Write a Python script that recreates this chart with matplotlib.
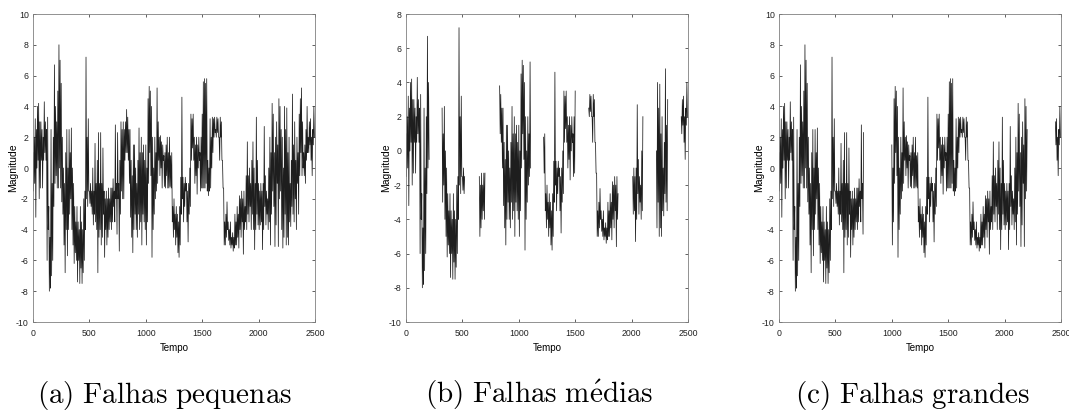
import numpy as np
import matplotlib.pyplot as plt

plt.rcParams['mathtext.fontset'] = 'cm'
plt.rcParams['axes.unicode_minus'] = False

# signal: for every 10 time units the upper and lower
# extreme of the dense trace
step = 10
upper = [
    1.0, 2.0, 3.2, 2.5, 4.0, 4.2, 3.0, 3.0, 2.5, 2.0,
    4.3, 3.0, 2.5, 3.3, -2.5, -4.5, 2.5, -1.0, 2.0, 6.7,
    4.0, 3.0, 5.0, 8.0, 7.0, 5.5, 2.0, 0.0, -1.0, 1.0,
    2.5, 0.0, 2.5, 1.0, 2.6, 0.0, -1.0, -2.5, -3.5, -2.5,
    -3.5, -4.0, -2.5, -3.5, -4.0, -2.0, -1.5, 7.2, 2.0, 3.2,
    -1.5, -1.0, -1.5, 0.0, -1.5, 1.6, -1.0, 0.5, 2.3, -1.0,
    2.3, -1.0, 1.3, -1.5, -2.0, -1.5, -2.0, -1.3, -2.0, -1.3,
    -1.3, -0.7, -1.5, 2.8, -1.0, 2.3, -1.0, 0.5, 3.0, 2.5,
    3.0, 2.5, 3.0, 3.8, 3.3, 2.5, 2.5, 0.5, -0.5, 1.5,
    1.5, 0.0, -1.0, 0.5, 2.6, 1.0, 2.0, 1.0, 1.5, 0.5,
    1.5, 0.0, 4.5, 5.3, 5.0, 4.0, 2.0, 0.0, 2.0, 1.0,
    5.2, 3.0, 2.0, 2.1, 1.7, 1.5, 0.8, 1.0, 1.5, 2.0,
    1.0, 2.0, 0.8, 1.0, -2.5, -2.0, -3.0, -2.5, -3.0, -3.5,
    -2.5, -0.6, 4.6, -0.6, -1.0, -0.6, -1.0, -1.5, -1.0, 0.0,
    3.5, 3.2, 3.5, 2.0, 1.5, 2.0, 1.5, 2.0, 1.0, 2.0,
    3.5, 5.6, 5.8, 5.5, 5.8, 0.5, 0.0, 3.2, 2.0, 3.3,
    3.2, 3.3, 2.5, 3.3, 3.2, 2.0, 3.3, 3.0, 0.5, -1.3,
    -3.5, -3.0, -2.2, -3.5, -4.0, -3.5, -4.5, -4.2, -4.5, -3.0,
    -3.5, -2.5, -3.0, -1.8, -2.0, -1.5, -2.0, -1.5, -2.5, -0.5,
    1.7, -0.5, 0.0, -1.0, 0.5, 1.7, 0.0, -1.0, 3.3, 0.5,
    -1.0, -1.5, -1.0, -1.5, -1.0, 2.7, -0.5, -1.5, -2.0, 0.0,
    2.0, 1.0, 4.2, 3.5, 1.0, 2.0, 3.0, 1.5, 4.5, 4.0,
    2.5, 2.0, 0.0, 4.0, 2.5, 3.9, 1.0, 2.0, -1.0, 0.5,
    4.8, 1.5, 3.0, 0.5, 2.0, 1.0, 3.5, 4.5, 5.2, 3.0,
    1.0, 1.5, 2.5, 4.0, 2.0, 3.0, 3.2, 2.0, 2.5, 4.0,
]
lower = [
    -1.5, -1.0, -3.2, 0.0, 0.5, -2.0, -1.3, 0.5, -1.3, 0.5,
    1.0, 0.5, -6.0, -4.0, -8.0, -7.8, -7.0, -6.0, -2.5, -1.0,
    -0.5, -1.3, -1.3, 0.0, -1.3, -2.2, -3.0, -5.0, -6.8, -4.0,
    -5.7, -4.0, -3.0, -2.0, -4.0, -5.0, -6.2, -5.5, -6.0, -7.4,
    -6.0, -7.5, -6.5, -7.5, -6.8, -6.0, -4.0, -2.0, -2.5, -1.5,
    -2.3, -2.5, -3.0, -3.7, -3.0, -3.5, -4.0, -6.8, -4.5, -4.0,
    -5.0, -4.5, -3.0, -5.8, -4.0, -5.0, -4.5, -4.0, -3.5, -4.0,
    -3.5, -2.5, -3.5, -2.0, -4.3, -2.0, -5.4, -3.0, -1.5, -2.0,
    -2.0, 0.5, 1.0, 1.0, 0.5, -1.0, -3.2, -4.5, -5.5, -4.0,
    -3.0, -4.0, -4.5, -3.0, -4.0, -3.5, -5.0, -3.0, -3.5, -4.0,
    -5.0, -3.5, -1.0, 1.0, -0.5, -5.8, -4.0, -3.0, -2.0, -1.5,
    -1.0, 0.5, -0.5, 0.0, -1.3, 0.5, -1.2, -1.3, -0.5, -1.3,
    -1.3, -1.2, -1.3, -3.5, -4.5, -4.0, -5.0, -4.5, -5.5, -5.8,
    -5.0, -3.0, -2.0, -3.5, -2.5, -1.5, -3.5, -4.8, -3.0, -2.5,
    0.5, 1.3, 0.5, -1.0, -0.5, -1.7, 0.0, 0.5, -1.5, -1.3,
    -1.3, -1.3, -1.3, -1.0, -1.5, -1.8, -1.5, -1.3, 0.0, 1.0,
    2.0, 2.3, 2.0, 2.3, 2.0, 0.5, 2.0, 0.5, -1.3, -5.0,
    -5.0, -4.5, -4.0, -4.7, -5.0, -5.2, -5.0, -5.4, -5.2, -5.0,
    -5.0, -4.5, -5.2, -4.0, -4.5, -3.5, -5.6, -4.0, -3.5, -4.0,
    -3.0, -3.5, -2.5, -4.0, -3.0, -4.0, -5.3, -4.0, -3.0, -3.7,
    -4.0, -3.7, -3.5, -5.3, -4.0, -2.5, -3.7, -3.0, -4.0, -3.5,
    -5.0, -3.0, -1.5, -2.5, -5.1, -3.7, -1.0, -5.1, -2.0, -1.5,
    -4.0, -5.2, -4.5, -3.0, -5.0, -4.5, -5.0, -3.5, -3.8, -2.5,
    -3.0, -3.5, -2.0, -4.0, -1.0, -3.0, -0.5, 1.0, -0.5, 0.0,
    -0.5, -1.0, 0.5, 1.0, 1.0, 1.5, 0.5, -0.5, 1.5, 2.0,
]

# visible stretches of the signal in each panel
segments_a = [(0, 2500)]
segments_b = [(0, 205), (320, 520), (650, 700), (830, 1105), (1220, 1500),
              (1620, 1880), (2010, 2100), (2220, 2320), (2440, 2500)]
segments_c = [(0, 750), (1000, 2200), (2450, 2500)]

captions = ['(a)\\ Falhas\\ pequenas', '(b)\\ Falhas\\ m\\acute{e}dias',
            '(c)\\ Falhas\\ grandes']
ytops = [10, 8, 10]

# interleave upper/lower so the trace sweeps between both extremes
t0 = np.arange(len(upper)) * step
t = np.column_stack([t0, t0 + step / 2]).ravel()
y = np.column_stack([upper, lower]).ravel()

tick_font = ['Liberation Sans Narrow', 'Liberation Sans', 'DejaVu Sans']

fig = plt.figure(figsize=(10.69, 4.12), dpi=100)
W, H = 1069, 412
lefts = [33, 406, 779]
cap_x = [165, 539, 912]

for i, segs in enumerate([segments_a, segments_b, segments_c]):
    ax = fig.add_axes([lefts[i] / W, 1 - 322 / H, 282 / W, 308 / H])
    mask = np.zeros(len(t), bool)
    for a, b in segs:
        mask |= (t >= a) & (t <= b)
    yy = np.where(mask, y, np.nan)
    ax.plot(t, yy, color='#1e1e1e', lw=0.55)
    ax.set_xlim(0, 2500)
    ax.set_ylim(-10, ytops[i])
    ax.set_xticks(np.arange(0, 2501, 500))
    ax.set_yticks(np.arange(-10, ytops[i] + 1, 2))
    ax.tick_params(direction='in', length=2.5, width=0.5, top=True, right=True,
                   labelsize=6.3, colors='#222222')
    ax.tick_params(axis='x', pad=5)
    ax.tick_params(axis='y', pad=3)
    for lab in ax.get_xticklabels() + ax.get_yticklabels():
        lab.set_family(tick_font)
    for s in ax.spines.values():
        s.set_color('#808080')
        s.set_linewidth(0.6)
    ax.set_xlabel('Tempo', fontsize=7, family=tick_font)
    ax.set_ylabel('Magnitude', fontsize=7.5, family=tick_font)
    ax.xaxis.set_label_coords(0.5, -21 / 308)
    ax.yaxis.set_label_coords(-15 / 282, 0.5)
    fig.text(cap_x[i] / W, 1 - 403 / H, '$\\mathrm{' + captions[i] + '}$',
             ha='center', va='baseline', fontsize=21)

fig.savefig('out.png', dpi=100)
